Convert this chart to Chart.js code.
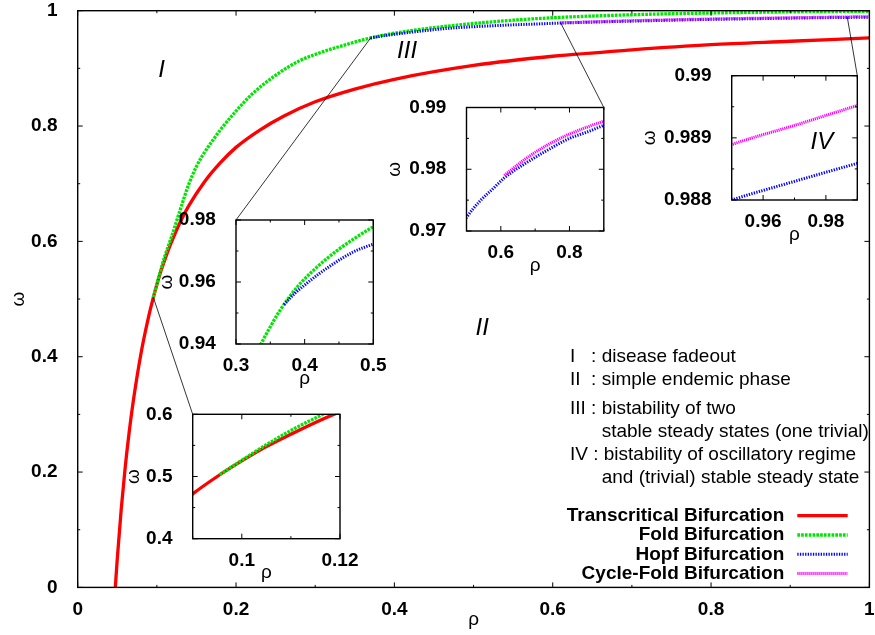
<!DOCTYPE html>
<html>
<head>
<meta charset="utf-8">
<script src="https://cdn.jsdelivr.net/npm/chart.js@4.4.1/dist/chart.umd.min.js"></script>
<style>
  html, body { margin: 0; padding: 0; background: #fff; overflow: hidden; }
  #wrap { position: relative; width: 875px; height: 635px; }
  canvas { position: absolute; }
</style>
</head>
<body>
<div id="wrap"><canvas id="main" width="875" height="635" style="left:0;top:0"></canvas></div>
<script>
const FONT = '"Liberation Sans", Arial, Helvetica, sans-serif';
Chart.defaults.font.family = FONT;
Chart.defaults.color = '#000';

// bifurcation curves (rho, omega)
const transRho   = [0.0475, 0.05, 0.055, 0.06, 0.065, 0.07, 0.08, 0.09, 0.095, 0.10, 0.105, 0.11, 0.115, 0.12, 0.13, 0.14, 0.16, 0.18, 0.20, 0.23, 0.26, 0.30, 0.35, 0.40, 0.50, 0.60, 0.70, 0.80, 0.90, 1.00];
const transOmega = [0, 0.05, 0.136, 0.208, 0.269, 0.321, 0.406, 0.472, 0.50, 0.525, 0.548, 0.568, 0.587, 0.604, 0.635, 0.661, 0.703, 0.736, 0.763, 0.793, 0.817, 0.842, 0.864, 0.881, 0.905, 0.921, 0.932, 0.941, 0.947, 0.953];

const foldRho   = [0.0955, 0.10, 0.105, 0.11, 0.1165, 0.12, 0.13, 0.14, 0.15, 0.16, 0.17, 0.18, 0.20, 0.22, 0.25, 0.28, 0.31, 0.3374, 0.364, 0.39, 0.42, 0.45, 0.475, 0.50, 0.55, 0.60, 0.70, 0.80, 0.90, 1.00];
const foldOmega = [0.503, 0.526, 0.551, 0.574, 0.600, 0.614, 0.657, 0.698, 0.730, 0.754, 0.774, 0.793, 0.826, 0.855, 0.888, 0.913, 0.929, 0.9405, 0.9508, 0.9586, 0.9652, 0.9706, 0.9744, 0.9778, 0.9835, 0.9878, 0.9930, 0.9960, 0.9980, 0.9990];

const hopfRho   = [0.37, 0.385, 0.40, 0.42, 0.44, 0.47, 0.50, 0.54, 0.58, 0.61, 0.67, 0.73, 0.80, 0.85, 0.90, 0.95, 0.97, 0.99, 1.00];
const hopfOmega = [0.9527, 0.9562, 0.9590, 0.9625, 0.9656, 0.9696, 0.9722, 0.9749, 0.9770, 0.9786, 0.9809, 0.9829, 0.9850, 0.9860, 0.9871, 0.98800, 0.98830, 0.98859, 0.98873];

const cycleRho   = [0.61, 0.675, 0.735, 0.80, 0.85, 0.90, 0.95, 0.97, 0.99, 1.00];
const cycleOmega = [0.9790, 0.9818, 0.9839, 0.9857, 0.9868, 0.9878, 0.98889, 0.98920, 0.98952, 0.98967];

// labelled ticks
const mainXTicks = [0, 0.2, 0.4, 0.6, 0.8, 1];
const mainYTicks = [0, 0.2, 0.4, 0.6, 0.8, 1];
const insetAXTicks = [0.1, 0.12];
const insetAYTicks = [0.4, 0.5, 0.6];
const insetBXTicks = [0.3, 0.4, 0.5];
const insetBYTicks = [0.94, 0.96, 0.98];
const insetCXTicks = [0.6, 0.8];
const insetCYTicks = [0.97, 0.98, 0.99];
const insetDXTicks = [0.96, 0.98];
const insetDYTicks = [0.988, 0.989, 0.99];

const regionNotes = [
  'I   : disease fadeout',
  'II  : simple endemic phase',
  'III : bistability of two',
  '      stable steady states (one trivial)',
  'IV : bistability of oscillatory regime',
  '      and (trivial) stable steady state'
];

const curveData = {
  trans: [transRho, transOmega],
  fold: [foldRho, foldOmega],
  hopf: [hopfRho, hopfOmega],
  cycle: [cycleRho, cycleOmega]
};
const styles = {
  trans: { label: 'Transcritical Bifurcation', color: '#ff0000', dash: [], width: 3.3, order: 4 },
  fold:  { label: 'Fold Bifurcation', color: '#00e600', dash: [2.7, 1.1], width: 3.3, order: 3 },
  hopf:  { label: 'Hopf Bifurcation', color: '#0000ff', dash: [1.3, 1.3], width: 3, order: 2 },
  cycle: { label: 'Cycle-Fold Bifurcation', color: '#ff00ff', dash: [1.2, 0.8], width: 3, order: 1 }
};

function curve(key) {
  const s = styles[key];
  const [rho, omega] = curveData[key];
  return {
    label: s.label,
    data: rho.map((r, i) => ({ x: r, y: omega[i] })),
    borderColor: s.color,
    borderWidth: s.width,
    borderDash: s.dash,
    borderCapStyle: 'butt',
    pointRadius: 0,
    fill: false,
    cubicInterpolationMode: 'monotone',
    order: s.order
  };
}

const near = (a, b) => Math.abs(a - b) < 1e-9;
const tickText = (v, major) => {
  const m = major.find(t => near(t, v));
  return m === undefined ? '' : String(m);
};

// gnuplot style border with inward ticks on all four sides
function framePlugin(xMajor, yMajor) {
  return {
    id: 'gnuFrame',
    afterDatasetsDraw(chart) {
      const { ctx, chartArea: a, scales: { x, y } } = chart;
      ctx.save();
      ctx.strokeStyle = '#000';
      ctx.lineWidth = 1;
      ctx.beginPath();
      x.ticks.forEach(t => {
        const p = x.getPixelForValue(t.value);
        const len = xMajor.some(m => near(m, t.value)) ? 5 : 2.5;
        ctx.moveTo(p, a.bottom); ctx.lineTo(p, a.bottom - len);
        ctx.moveTo(p, a.top); ctx.lineTo(p, a.top + len);
      });
      y.ticks.forEach(t => {
        const p = y.getPixelForValue(t.value);
        const len = yMajor.some(m => near(m, t.value)) ? 5 : 2.5;
        ctx.moveTo(a.left, p); ctx.lineTo(a.left + len, p);
        ctx.moveTo(a.right, p); ctx.lineTo(a.right - len, p);
      });
      ctx.stroke();
      ctx.lineWidth = 1.4;
      ctx.strokeRect(a.left, a.top, a.right - a.left, a.bottom - a.top);
      ctx.restore();
    }
  };
}

// fixed axis boxes; labels may overhang, layout padding handles the rest
function fixBox(s, w, h) {
  if (w !== undefined) s.width = w;
  if (h !== undefined) s.height = h;
  s.paddingTop = 0; s.paddingBottom = 0; s.paddingLeft = 0; s.paddingRight = 0;
}

function makeChart(canvas, spec) {
  const [xMin, xMax, xStep, xMajor] = spec.x;
  const [yMin, yMax, yStep, yMajor] = spec.y;
  return new Chart(canvas, {
    type: 'line',
    data: { datasets: spec.curves.map(curve) },
    options: {
      responsive: false,
      animation: false,
      devicePixelRatio: 1,
      layout: { padding: { top: spec.padTop, right: spec.padRight, left: 0, bottom: 0 } },
      plugins: { legend: { display: false }, tooltip: { enabled: false } },
      scales: {
        x: {
          type: 'linear', min: xMin, max: xMax,
          grid: { display: false }, border: { display: false },
          ticks: {
            stepSize: xStep, autoSkip: false, maxRotation: 0, padding: 4.5,
            font: { size: 19, weight: 'bold', lineHeight: 1 },
            callback: v => tickText(v, xMajor)
          },
          title: { display: true, text: 'ρ', font: { size: 19, lineHeight: 1 }, padding: { top: 0, bottom: spec.xTitlePad } },
          afterFit: s => fixBox(s, undefined, spec.xAxisH)
        },
        y: {
          type: 'linear', min: yMin, max: yMax,
          grid: { display: false }, border: { display: false },
          ticks: {
            stepSize: yStep, autoSkip: false, padding: 12.2,
            font: { size: 19, weight: 'bold', lineHeight: 1 },
            callback: v => tickText(v, yMajor)
          },
          title: { display: true, text: 'ω', font: { size: 19, lineHeight: 1 }, padding: { top: spec.yTitlePad, bottom: 0 } },
          afterFit: s => fixBox(s, spec.yAxisW, undefined)
        }
      }
    },
    plugins: [framePlugin(xMajor, yMajor)].concat(spec.plugins || [])
  });
}

// insets: plot rectangle in page pixels, ranges and curves shown
const insetSpecs = {
  A: { plot: [192.7, 414.3, 340, 538.7], yTitleX: 133.3, x: [0.09, 0.12, 0.01, insetAXTicks], y: [0.4, 0.6, 0.05, insetAYTicks], curves: ['trans', 'fold'] },
  B: { plot: [236, 220, 373.3, 344], yTitleX: 166.7, x: [0.3, 0.5, 0.05, insetBXTicks], y: [0.94, 0.98, 0.01, insetBYTicks], curves: ['fold', 'hopf'] },
  C: { plot: [466.5, 107.5, 603.8, 231], yTitleX: 395, x: [0.5, 0.9, 0.1, insetCXTicks], y: [0.97, 0.99, 0.005, insetCYTicks], curves: ['hopf', 'cycle'] },
  D: { plot: [731.7, 75.7, 857.3, 200], yTitleX: 649.3, x: [0.95, 0.99, 0.01, insetDXTicks], y: [0.988, 0.99, 0.0005, insetDYTicks], curves: ['hopf', 'cycle'] }
};

const insetIV = {
  id: 'insetIV',
  afterDraw(chart) {
    const { ctx, scales: { x, y } } = chart;
    ctx.save();
    ctx.font = 'italic 24px ' + FONT;
    ctx.textAlign = 'center';
    ctx.textBaseline = 'middle';
    ctx.fillStyle = '#000';
    ctx.fillText('IV', x.getPixelForValue(0.9787), y.getPixelForValue(0.98892));
    ctx.restore();
  }
};

const wrap = document.getElementById('wrap');
const insets = {};
Object.entries(insetSpecs).forEach(([id, s]) => {
  const [l, t, r, b] = s.plot;
  const left = Math.round(s.yTitleX - 12);
  const top = Math.round(t - 14);
  const right = Math.round(r + 22);
  const bottom = Math.round(b + 34.5 + 12);
  const cv = document.createElement('canvas');
  cv.width = right - left;
  cv.height = bottom - top;
  cv.style.left = left + 'px';
  cv.style.top = top + 'px';
  wrap.appendChild(cv);
  const chart = makeChart(cv, {
    x: s.x, y: s.y, curves: s.curves,
    padTop: t - top, padRight: right - r,
    yAxisW: l - left, xAxisH: bottom - b,
    yTitlePad: s.yTitleX - left - 9.5,
    xTitlePad: bottom - (b + 34.5) - 9.5,
    plugins: id === 'D' ? [insetIV] : []
  });
  insets[id] = { chart, left, top };
});

// zoom connectors: point on main curve -> inset corner
const links = [
  [0.0955, 0.503, 'A', 'left'],
  [0.37, 0.9527, 'B', 'left'],
  [0.61, 0.979, 'C', 'right'],
  [0.972, 0.9895, 'D', 'right']
];
const regionMarks = [
  ['I', 0.106, 0.897],
  ['II', 0.511, 0.449],
  ['III', 0.416, 0.929]
];

const mainExtras = {
  id: 'mainExtras',
  afterDraw(chart) {
    const { ctx, scales: { x, y } } = chart;
    ctx.save();
    ctx.strokeStyle = '#000';
    ctx.lineWidth = 0.8;
    links.forEach(([rho, om, id, corner]) => {
      const ins = insets[id];
      const a = ins.chart.chartArea;
      ctx.beginPath();
      ctx.moveTo(x.getPixelForValue(rho), y.getPixelForValue(om));
      ctx.lineTo(ins.left + (corner === 'left' ? a.left : a.right), ins.top + a.top);
      ctx.stroke();
    });

    ctx.fillStyle = '#000';
    ctx.textBaseline = 'middle';
    ctx.textAlign = 'center';
    ctx.font = 'italic 24px ' + FONT;
    regionMarks.forEach(([txt, rho, om]) => ctx.fillText(txt, x.getPixelForValue(rho), y.getPixelForValue(om)));

    ctx.textAlign = 'left';
    ctx.font = '19px ' + FONT;
    const noteY = [356.7, 380, 409, 432, 455, 478];
    regionNotes.forEach((txt, i) => ctx.fillText(txt, 570, noteY[i]));

    // key
    ctx.font = 'bold 19px ' + FONT;
    ctx.textAlign = 'right';
    chart.data.datasets.forEach((ds, i) => {
      const yy = 515.7 + i * 19.3;
      ctx.fillText(ds.label, 784.3, yy);
      ctx.save();
      ctx.strokeStyle = ds.borderColor;
      ctx.lineWidth = ds.borderWidth;
      ctx.setLineDash(ds.borderDash);
      ctx.beginPath();
      ctx.moveTo(797.3, yy);
      ctx.lineTo(847.7, yy);
      ctx.stroke();
      ctx.restore();
    });
    ctx.restore();
  }
};

makeChart(document.getElementById('main'), {
  x: [0, 1, 0.1, mainXTicks],
  y: [0, 1, 0.1, mainYTicks],
  curves: ['trans', 'fold', 'hopf', 'cycle'],
  padTop: 10.7, padRight: 5.6,
  yAxisW: 77.7, xAxisH: 47.6,
  yTitlePad: 18.3 - 9.5,
  xTitlePad: 15 - 9.5,
  plugins: [mainExtras]
});
</script>
</body>
</html>
